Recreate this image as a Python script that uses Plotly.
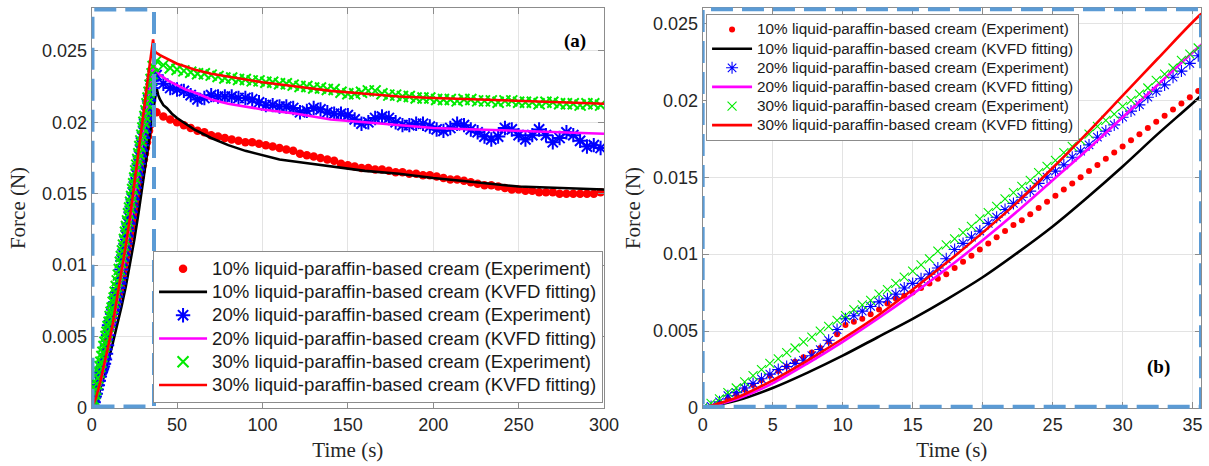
import numpy as np
import plotly.graph_objects as go

# ---------------- data ----------------
ramp_t = np.round(np.arange(0, 36.01, 0.6), 1)      # loading phase sampling (s)
relax_t = np.arange(38, 299, 4)                       # relaxation phase sampling (s)

exp10_ramp = [0.0000, 0.0001, 0.0003, 0.0006, 0.0009, 0.0012, 0.0015, 0.0018, 0.0021, 0.0024,
              0.0027, 0.0030, 0.0033, 0.0036, 0.0039, 0.0043, 0.0048, 0.0054, 0.0056, 0.0058,
              0.0061, 0.0064, 0.0068, 0.0071, 0.0073, 0.0075, 0.0078, 0.0081, 0.0084, 0.0087,
              0.0091, 0.0095, 0.0099, 0.0103, 0.0107, 0.0111, 0.0115, 0.0119, 0.0122, 0.0126,
              0.0130, 0.0134, 0.0138, 0.0142, 0.0146, 0.0150, 0.0154, 0.0158, 0.0162, 0.0166,
              0.0170, 0.0174, 0.0178, 0.0182, 0.0186, 0.0190, 0.0194, 0.0198, 0.0202, 0.0206,
              0.0208]
exp20_ramp = [0.0000, 0.0001, 0.0004, 0.0008, 0.0010, 0.0013, 0.0016, 0.0019, 0.0022, 0.0025,
              0.0027, 0.0029, 0.0031, 0.0034, 0.0038, 0.0044, 0.0051, 0.0058, 0.0060, 0.0063,
              0.0066, 0.0069, 0.0071, 0.0074, 0.0078, 0.0081, 0.0084, 0.0087, 0.0091, 0.0097,
              0.0103, 0.0107, 0.0111, 0.0115, 0.0120, 0.0124, 0.0129, 0.0133, 0.0137, 0.0141,
              0.0146, 0.0150, 0.0154, 0.0158, 0.0163, 0.0167, 0.0171, 0.0176, 0.0180, 0.0184,
              0.0189, 0.0193, 0.0197, 0.0202, 0.0206, 0.0210, 0.0215, 0.0219, 0.0224, 0.0229,
              0.0233]
exp30_ramp = [0.0000, 0.0003, 0.0006, 0.0010, 0.0013, 0.0017, 0.0021, 0.0025, 0.0029, 0.0032,
              0.0036, 0.0039, 0.0043, 0.0046, 0.0050, 0.0053, 0.0057, 0.0060, 0.0064, 0.0067,
              0.0070, 0.0074, 0.0077, 0.0081, 0.0085, 0.0089, 0.0093, 0.0097, 0.0102, 0.0106,
              0.0110, 0.0114, 0.0118, 0.0123, 0.0127, 0.0131, 0.0136, 0.0140, 0.0144, 0.0148,
              0.0153, 0.0157, 0.0161, 0.0166, 0.0170, 0.0174, 0.0178, 0.0183, 0.0187, 0.0191,
              0.0196, 0.0200, 0.0204, 0.0208, 0.0213, 0.0217, 0.0221, 0.0226, 0.0230, 0.0234,
              0.0239]

exp10_relax = [0.0207, 0.0204, 0.0202, 0.0200, 0.0198, 0.0196, 0.0194, 0.0193, 0.0191, 0.0190,
               0.0189, 0.0188, 0.0187, 0.0186, 0.0186, 0.0185, 0.0184, 0.0183, 0.0182, 0.0181,
               0.0180, 0.0178, 0.0177, 0.0176, 0.0175, 0.0174, 0.0173, 0.0171, 0.0170, 0.0169,
               0.0168, 0.0168, 0.0167, 0.0167, 0.0166, 0.0165, 0.0165, 0.0164, 0.0164, 0.0163,
               0.0163, 0.0162, 0.0161, 0.0160, 0.0160, 0.0159, 0.0158, 0.0157, 0.0156, 0.0156,
               0.0155, 0.0154, 0.0153, 0.0153, 0.0152, 0.0152, 0.0151, 0.0151, 0.0151, 0.0150,
               0.0150, 0.0150, 0.0150, 0.0150, 0.0150, 0.0151]
exp20_relax = [0.0233, 0.0227, 0.0224, 0.0223, 0.0222, 0.0219, 0.0216, 0.0217, 0.0219, 0.0218,
               0.0218, 0.0218, 0.0217, 0.0217, 0.0216, 0.0214, 0.0212, 0.0212, 0.0211, 0.0211,
               0.0210, 0.0207, 0.0208, 0.0210, 0.0209, 0.0207, 0.0206, 0.0206, 0.0205, 0.0202,
               0.0199, 0.0200, 0.0203, 0.0204, 0.0203, 0.0200, 0.0198, 0.0198, 0.0199, 0.0199,
               0.0197, 0.0195, 0.0194, 0.0196, 0.0199, 0.0198, 0.0195, 0.0193, 0.0190, 0.0188,
               0.0190, 0.0196, 0.0195, 0.0191, 0.0188, 0.0191, 0.0195, 0.0191, 0.0186, 0.0189,
               0.0193, 0.0191, 0.0187, 0.0183, 0.0184, 0.0182]
exp30_relax = [0.0243, 0.0240, 0.0238, 0.0237, 0.0236, 0.0235, 0.0234, 0.0234, 0.0233, 0.0232,
               0.0231, 0.0231, 0.0230, 0.0230, 0.0229, 0.0229, 0.0228, 0.0228, 0.0227, 0.0227,
               0.0226, 0.0225, 0.0225, 0.0224, 0.0224, 0.0223, 0.0223, 0.0221, 0.0220, 0.0220,
               0.0221, 0.0222, 0.0222, 0.0220, 0.0219, 0.0219, 0.0218, 0.0218, 0.0217, 0.0217,
               0.0217, 0.0216, 0.0216, 0.0216, 0.0215, 0.0216, 0.0216, 0.0215, 0.0215, 0.0215,
               0.0214, 0.0215, 0.0215, 0.0214, 0.0214, 0.0214, 0.0213, 0.0214, 0.0214, 0.0213,
               0.0213, 0.0213, 0.0212, 0.0213, 0.0213, 0.0212]

# KVFD fitting curves
fit_ramp_t = [0, 2.5, 5, 7.5, 10, 12.5, 15, 17.5, 20, 22.5, 25, 27.5, 30, 32.5, 35.6]
fit10_ramp = [0, 0.0005, 0.0013, 0.0023, 0.0034, 0.0046, 0.0058, 0.0071, 0.0085, 0.0101,
              0.0118, 0.0137, 0.0157, 0.0178, 0.0203]
fit20_ramp = [0, 0.0006, 0.0016, 0.0029, 0.0043, 0.0058, 0.0074, 0.0091, 0.0109, 0.0128,
              0.0148, 0.0168, 0.0189, 0.0210, 0.0236]
fit30_ramp = [0, 0.0007, 0.0018, 0.0031, 0.0045, 0.0060, 0.0077, 0.0095, 0.0114, 0.0134,
              0.0156, 0.0179, 0.0203, 0.0227, 0.0256]

fit10_relax_t = [38, 39, 40, 42, 44, 47, 50, 55, 60, 70, 80, 90, 100, 110, 122, 140, 160, 180,
                 200, 225, 250, 275, 300]
fit10_relax = [0.0224, 0.0219, 0.0216, 0.0212, 0.0210, 0.0206, 0.0203, 0.0199, 0.0195, 0.0189,
               0.0184, 0.0180, 0.0177, 0.0174, 0.0172, 0.0169, 0.0166, 0.0164, 0.0161, 0.0158,
               0.0155, 0.0154, 0.0153]
fit20_relax_t = [36.5, 37.2, 38, 40, 45, 50, 55, 60, 70, 80, 90, 100, 120, 140, 160, 180, 200,
                 225, 250, 275, 300]
fit20_relax = [0.0242, 0.0238, 0.0236, 0.0233, 0.0229, 0.0226, 0.0223, 0.0221, 0.0216, 0.0213,
               0.0211, 0.0209, 0.0206, 0.0202, 0.0200, 0.0198, 0.0196, 0.0195, 0.0194, 0.0193,
               0.0192]
fit30_relax_t = [36.0, 36.6, 37.5, 40, 45, 50, 55, 60, 70, 80, 90, 100, 120, 140, 160, 180, 200,
                 225, 250, 275, 300]
fit30_relax = [0.0258, 0.0251, 0.0249, 0.0247, 0.0244, 0.0241, 0.0239, 0.0237, 0.0234, 0.0232,
               0.0230, 0.0228, 0.0225, 0.0222, 0.0220, 0.0218, 0.0217, 0.0216, 0.0215, 0.0214,
               0.0213]

labels = ["10% liquid-paraffin-based cream (Experiment)",
          "10% liquid-paraffin-based cream (KVFD fitting)",
          "20% liquid-paraffin-based cream (Experiment)",
          "20% liquid-paraffin-based cream (KVFD fitting)",
          "30% liquid-paraffin-based cream (Experiment)",
          "30% liquid-paraffin-based cream (KVFD fitting)"]

xticks_a = [0, 50, 100, 150, 200, 250, 300]
xticks_b = [0, 5, 10, 15, 20, 25, 30, 35]
yticks = [0, 0.005, 0.01, 0.015, 0.02, 0.025]
ytick_text = ["0", "0.005", "0.01", "0.015", "0.02", "0.025"]

# ---------------- figure ----------------
exp_t = list(ramp_t) + list(relax_t)
exp10 = exp10_ramp + exp10_relax
exp20 = exp20_ramp + exp20_relax
exp30 = exp30_ramp + exp30_relax
fit10_t = fit_ramp_t + fit10_relax_t
fit20_t = fit_ramp_t + fit20_relax_t
fit30_t = fit_ramp_t + fit30_relax_t
fit10 = fit10_ramp + fit10_relax
fit20 = fit20_ramp + fit20_relax
fit30 = fit30_ramp + fit30_relax

RED = "rgb(255,0,0)"
BLUE = "rgb(0,0,255)"
GREEN = "rgb(0,235,0)"
MAG = "rgb(255,0,255)"

fig = go.Figure()


def add_panel(xa, ya, leg, big):
    if big:
        sz_dot, sz_ast, sz_x, lw_m, shape, fpx = 8.5, 12, 11, 2.0, "linear", 18.6
    else:
        sz_dot, sz_ast, sz_x, lw_m, shape, fpx = 6, 10, 9, 1.1, "spline", 15.3
    nm = [f"<span style='font-size:{fpx}px'>{s}</span>" for s in labels]
    fig.add_trace(go.Scatter(x=exp_t, y=exp10, mode="markers", name=nm[0],
                             marker=dict(symbol="circle", size=sz_dot, color=RED, line=dict(width=0)),
                             xaxis=xa, yaxis=ya, legend=leg))
    fig.add_trace(go.Scatter(x=fit10_t, y=fit10, mode="lines", name=nm[1],
                             line=dict(color="black", width=2.6, shape=shape, smoothing=0.8),
                             xaxis=xa, yaxis=ya, legend=leg))
    fig.add_trace(go.Scatter(x=exp_t, y=exp20, mode="markers", name=nm[2],
                             marker=dict(symbol="asterisk-open", size=sz_ast, color=BLUE,
                                         line=dict(color=BLUE, width=lw_m)),
                             xaxis=xa, yaxis=ya, legend=leg))
    fig.add_trace(go.Scatter(x=fit20_t, y=fit20, mode="lines", name=nm[3],
                             line=dict(color=MAG, width=2.6, shape=shape, smoothing=0.8),
                             xaxis=xa, yaxis=ya, legend=leg))
    fig.add_trace(go.Scatter(x=exp_t, y=exp30, mode="markers", name=nm[4],
                             marker=dict(symbol="x-thin-open", size=sz_x, color=GREEN,
                                         line=dict(color=GREEN, width=lw_m)),
                             xaxis=xa, yaxis=ya, legend=leg))
    fig.add_trace(go.Scatter(x=fit30_t, y=fit30, mode="lines", name=nm[5],
                             line=dict(color=RED, width=2.6, shape=shape, smoothing=0.8),
                             xaxis=xa, yaxis=ya, legend=leg))


add_panel("x", "y", "legend", True)
add_panel("x2", "y2", "legend2", False)

TICKFONT = dict(family="Liberation Sans, Arial, sans-serif", size=18, color="#262626")
TITLEFONT = dict(family="Liberation Serif, Times New Roman, serif", size=21, color="#262626")
axis_common = dict(showline=True, linecolor="#8c8c8c", linewidth=1, mirror="ticks",
                   ticks="inside", ticklen=6, tickcolor="#8c8c8c", showgrid=True,
                   gridcolor="#e3e3e3", gridwidth=1, zeroline=False, tickfont=TICKFONT,
                   automargin=False)

fig.update_layout(
    width=1209, height=466,
    margin=dict(l=0, r=0, t=8, b=58),
    paper_bgcolor="white", plot_bgcolor="white",
    xaxis=dict(domain=[0.0758, 0.4996], range=[0, 300], tickvals=xticks_a, anchor="y",
               title=dict(text="Time (s)", font=TITLEFONT, standoff=8), **axis_common),
    yaxis=dict(domain=[0, 1], range=[0, 0.028], tickvals=yticks, ticktext=ytick_text, anchor="x",
               title=dict(text="Force (N)", font=TITLEFONT, standoff=10), **axis_common),
    xaxis2=dict(domain=[0.5812, 0.9934], range=[0, 35.6], tickvals=xticks_b, anchor="y2",
                title=dict(text="Time (s)", font=TITLEFONT, standoff=8), **axis_common),
    yaxis2=dict(domain=[0, 1], range=[0, 0.026], tickvals=yticks, ticktext=ytick_text, anchor="x2",
                title=dict(text="Force (N)", font=TITLEFONT, standoff=6), **axis_common),
    legend=dict(x=0.4988, xanchor="right", y=0.0125, yanchor="bottom", bgcolor="white",
                bordercolor="#8c8c8c", borderwidth=1, tracegroupgap=0, itemwidth=48,
                font=dict(family="Liberation Sans, Arial, sans-serif", size=15.6, color="#1a1a1a")),
    legend2=dict(x=0.584, xanchor="left", y=0.985, yanchor="top", bgcolor="white",
                 bordercolor="#8c8c8c", borderwidth=1, tracegroupgap=0, itemwidth=40,
                 font=dict(family="Liberation Sans, Arial, sans-serif", size=12.4, color="#1a1a1a")),
    showlegend=True,
)

DASH_COLOR = "rgb(91,155,213)"
fig.add_shape(type="rect", xref="x", yref="paper", x0=0.5, x1=36.5, y0=0.004, y1=0.996,
              line=dict(color=DASH_COLOR, width=4, dash="22px,9px"), layer="above")
fig.add_shape(type="rect", xref="x2", yref="paper", x0=0.0, x1=35.6, y0=0.003, y1=0.997,
              line=dict(color=DASH_COLOR, width=4, dash="22px,9px"), layer="above")

fig.add_annotation(text="<b>(a)</b>", xref="paper", yref="paper", x=0.4756, y=0.95,
                   showarrow=False, font=dict(family="Liberation Serif, serif", size=19, color="black"))
fig.add_annotation(text="<b>(b)</b>", xref="paper", yref="paper", x=0.9694, y=0.07,
                   showarrow=False, font=dict(family="Liberation Serif, serif", size=19, color="black"))

fig.write_html("out.html", config={"displayModeBar": False},
               post_script="document.body.style.margin='0px';")
